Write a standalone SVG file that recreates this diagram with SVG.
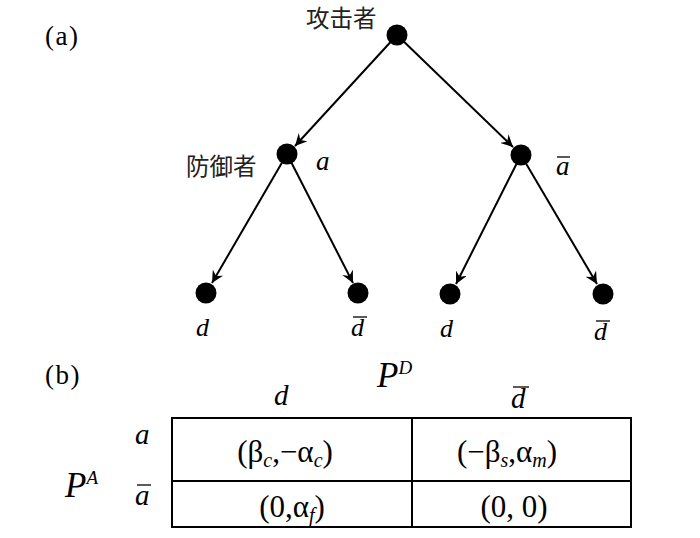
<svg xmlns="http://www.w3.org/2000/svg" width="700" height="538" viewBox="0 0 700 538">
<style>
.n{fill:#000}
.e{stroke:#000;stroke-width:2;fill:none}
.cj{font-family:"Noto Sans CJK SC","Noto Sans CJK JP",sans-serif;font-size:23.5px;fill:#222}
.t{font-family:"Liberation Serif","Times New Roman",serif;fill:#000}
.i{font-style:italic}
.tb{stroke:#000;stroke-width:2;fill:none}
.ob{stroke:#000;stroke-width:1.3}
</style>
<defs>
<marker id="ar" markerWidth="14" markerHeight="12" refX="12" refY="6" orient="auto" markerUnits="userSpaceOnUse">
<path d="M0,0 L12,6 L0,12 L4,6 Z" fill="#000"/>
</marker>
</defs>
<rect width="700" height="538" fill="#fff"/>
<text class="t" x="45" y="45" font-size="27" letter-spacing="1.5">(a)</text>
<text class="t" x="45" y="384" font-size="27" letter-spacing="1.5">(b)</text>
<g id="connectors">
<line class="e" x1="397" y1="35" x2="295" y2="146" marker-end="url(#ar)"/>
<line class="e" x1="397" y1="35" x2="513" y2="147" marker-end="url(#ar)"/>
<line class="e" x1="287" y1="154" x2="212" y2="283" marker-end="url(#ar)"/>
<line class="e" x1="287" y1="154" x2="353" y2="283" marker-end="url(#ar)"/>
<line class="e" x1="521" y1="155" x2="456" y2="284" marker-end="url(#ar)"/>
<line class="e" x1="521" y1="155" x2="597" y2="284" marker-end="url(#ar)"/>
</g>
<g id="attacker"><circle class="n" cx="397" cy="35" r="10.5"/><text class="cj" x="306" y="27">攻击者</text></g>
<g id="defender-a"><circle class="n" cx="287" cy="154" r="10.5"/><text class="cj" x="186" y="175">防御者</text><text class="t i" x="316" y="170" font-size="27">a</text></g>
<g id="defender-abar"><circle class="n" cx="521" cy="155" r="10.5"/><text class="t i" x="556" y="175" font-size="27">a</text><line class="ob" x1="557" y1="157" x2="570" y2="157"/></g>
<g id="leaf1"><circle class="n" cx="206" cy="293" r="10.5"/><text class="t i" x="196" y="336" font-size="26">d</text></g>
<g id="leaf2"><circle class="n" cx="358" cy="293" r="10.5"/><text class="t i" x="351" y="336" font-size="26">d</text><line class="ob" x1="353" y1="317" x2="367" y2="317"/></g>
<g id="leaf3"><circle class="n" cx="450" cy="294" r="10.5"/><text class="t i" x="440" y="337" font-size="26">d</text></g>
<g id="leaf4"><circle class="n" cx="603" cy="294" r="10.5"/><text class="t i" x="594" y="340" font-size="26">d</text><line class="ob" x1="596" y1="321" x2="610" y2="321"/></g>
<g id="table">
<rect class="tb" x="172" y="418" width="459" height="109"/>
<line class="tb" x1="172" y1="481" x2="631" y2="481"/>
<line class="tb" x1="412" y1="418" x2="412" y2="527"/>
<text class="t i" x="377" y="387" font-size="35">P<tspan font-size="19" dy="-13">D</tspan></text>
<text class="t i" x="65" y="497" font-size="35">P<tspan font-size="19" dy="-13">A</tspan></text>
<text class="t i" x="274" y="405" font-size="29">d</text>
<text class="t i" x="511" y="408" font-size="29">d</text>
<line class="ob" x1="513" y1="387" x2="529" y2="387"/>
<text class="t i" x="135" y="444" font-size="29">a</text>
<text class="t i" x="135" y="505" font-size="29">a</text>
<line class="ob" x1="137" y1="485" x2="151" y2="485"/>
<text class="t" x="285" y="462" font-size="31" text-anchor="middle">(β<tspan class="i" font-size="20" dy="5">c</tspan><tspan dy="-5">,−α</tspan><tspan class="i" font-size="20" dy="5">c</tspan><tspan dy="-5">)</tspan></text>
<text class="t" x="292" y="517" font-size="31" text-anchor="middle">(0,α<tspan class="i" font-size="20" dy="5">f</tspan><tspan dy="-5">)</tspan></text>
<text class="t" x="507" y="462" font-size="31" text-anchor="middle">(−β<tspan class="i" font-size="20" dy="5">s</tspan><tspan dy="-5">,α</tspan><tspan class="i" font-size="20" dy="5">m</tspan><tspan dy="-5">)</tspan></text>
<text class="t" x="514" y="517" font-size="31" text-anchor="middle">(0, 0)</text>
</g>
</svg>
